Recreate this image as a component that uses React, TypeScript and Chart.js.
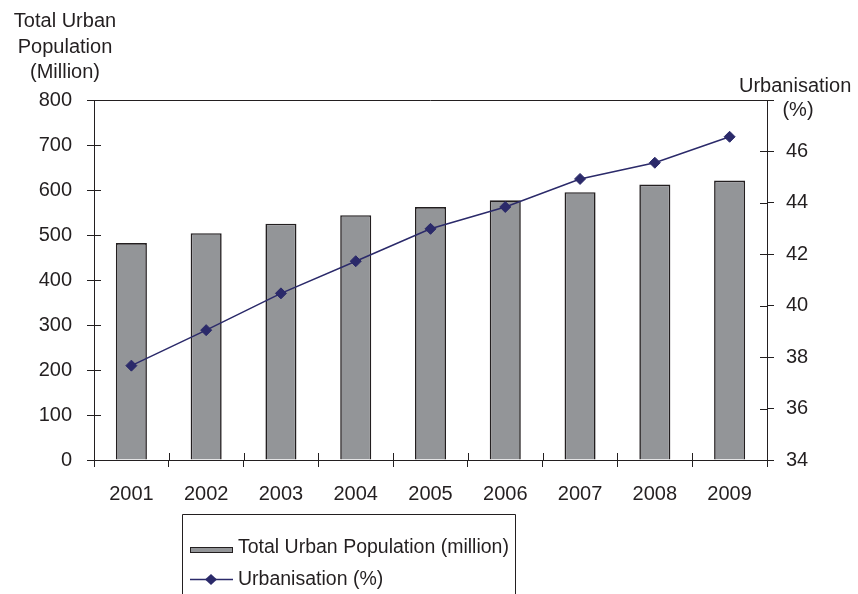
import React, { useEffect, useRef } from 'react';
import { Chart, registerables } from 'chart.js';

Chart.register(...registerables);

const years = ['2001', '2002', '2003', '2004', '2005', '2006', '2007', '2008', '2009'];
const urbanPopulation = [482, 504, 525, 544, 562, 577, 595, 612, 621];
const urbanisationPct = [37.67, 39.05, 40.48, 41.73, 42.99, 43.84, 44.93, 45.56, 46.57];
const leftAxisTitle = ['Total Urban', 'Population', '(Million)'];
const rightAxisTitle = ['Urbanisation', '(%)'];
const popLabel = 'Total Urban Population (million)';
const pctLabel = 'Urbanisation (%)';

const FONT = '"Liberation Sans", Arial, Helvetica, sans-serif';
const INK = '#231f20';
const BAR = '#939598';
const LINE = '#2b2a6a';

const decorPlugin = {
  id: 'decor',
  afterDraw(chart: any) {
    const ctx = chart.ctx;
    const { left, right, top, bottom } = chart.chartArea;
    const x = chart.scales.x;
    const y = chart.scales.y;
    const y1 = chart.scales.y1;
    ctx.save();
    ctx.strokeStyle = INK;
    ctx.lineWidth = 1;
    // top border of plot area
    ctx.beginPath();
    ctx.moveTo(left, Math.round(top) + 0.5);
    ctx.lineTo(right, Math.round(top) + 0.5);
    ctx.stroke();
    // inner halves of crossing tick marks
    ctx.beginPath();
    y.ticks.forEach((_t: any, i: number) => {
      const py = Math.round(y.getPixelForTick(i)) + 0.5;
      ctx.moveTo(left, py);
      ctx.lineTo(left + 7, py);
    });
    y1.ticks.forEach((_t: any, i: number) => {
      const py = Math.round(y1.getPixelForTick(i)) + 0.5;
      ctx.moveTo(right, py);
      ctx.lineTo(right - 7, py);
    });
    const half = (x.getPixelForValue(1) - x.getPixelForValue(0)) / 2;
    for (let i = 0; i <= years.length; i++) {
      const px = Math.round(x.getPixelForValue(i) - half) + 0.5;
      ctx.moveTo(px, bottom);
      ctx.lineTo(px, bottom - 7);
    }
    ctx.stroke();

    // axis titles
    ctx.fillStyle = INK;
    ctx.font = `20px ${FONT}`;
    ctx.textBaseline = 'middle';
    ctx.textAlign = 'center';
    const ly = [21, 47, 72];
    leftAxisTitle.forEach((t, i) => ctx.fillText(t, 65, ly[i]));
    ctx.textAlign = 'left';
    ctx.fillText(rightAxisTitle[0], 739, 86);
    ctx.textAlign = 'center';
    ctx.fillText(rightAxisTitle[1], 798, 110);

    // legend box
    ctx.beginPath();
    ctx.rect(182.5, 514.5, 333, 100);
    ctx.stroke();
    const ds = chart.data.datasets;
    // bar symbol
    ctx.fillStyle = ds[0].backgroundColor;
    ctx.fillRect(190, 547, 42, 5);
    ctx.strokeStyle = ds[0].borderColor;
    ctx.strokeRect(190.5, 547.5, 42, 5);
    // line symbol
    ctx.strokeStyle = ds[1].borderColor;
    ctx.lineWidth = 1.5;
    ctx.beginPath();
    ctx.moveTo(190, 579.5);
    ctx.lineTo(233, 579.5);
    ctx.stroke();
    ctx.fillStyle = ds[1].backgroundColor;
    ctx.beginPath();
    ctx.moveTo(205, 579.5);
    ctx.lineTo(211, 574);
    ctx.lineTo(217, 579.5);
    ctx.lineTo(211, 585);
    ctx.closePath();
    ctx.fill();
    // legend texts
    ctx.fillStyle = INK;
    ctx.font = `19.5px ${FONT}`;
    ctx.textAlign = 'left';
    ctx.textBaseline = 'alphabetic';
    ctx.fillText(ds[0].label, 238, 553);
    ctx.fillText(ds[1].label, 238, 585);
    ctx.restore();
  },
};

export default function App() {
  const ref = useRef<HTMLCanvasElement | null>(null);
  useEffect(() => {
    if (!ref.current) return;
    const font = { family: FONT, size: 20 };
    const chart = new Chart(ref.current, {
      type: 'bar',
      data: {
        labels: years,
        datasets: [
          {
            type: 'bar',
            label: popLabel,
            data: urbanPopulation,
            yAxisID: 'y',
            backgroundColor: BAR,
            borderColor: INK,
            borderWidth: 1.6,
            inflateAmount: 0,
            barPercentage: 0.415,
            categoryPercentage: 1,
            order: 2,
          } as any,
          {
            type: 'line',
            label: pctLabel,
            data: urbanisationPct,
            yAxisID: 'y1',
            borderColor: LINE,
            backgroundColor: LINE,
            borderWidth: 1.5,
            pointStyle: 'rectRot',
            pointRadius: 5.5,
            pointBorderWidth: 1,
            tension: 0,
            order: 1,
          } as any,
        ],
      },
      options: {
        animation: false,
        responsive: false,
        maintainAspectRatio: false,
        layout: { padding: { top: 100, left: 0, right: 0, bottom: 0 } },
        plugins: { legend: { display: false }, tooltip: { enabled: false } },
        scales: {
          x: {
            offset: true,
            grid: { offset: true, drawOnChartArea: false, drawTicks: true, tickLength: 7, color: INK, lineWidth: 1 },
            border: { display: true, color: INK, width: 1 },
            ticks: { font, color: INK, padding: 15, maxRotation: 0, autoSkip: false },
            afterFit: (s: any) => { s.height = 134; },
          },
          y: {
            position: 'left',
            min: 0,
            max: 800,
            ticks: { stepSize: 100, font, color: INK, padding: 15 },
            grid: { drawOnChartArea: false, tickLength: 7, color: INK },
            border: { display: true, color: INK, width: 1 },
            afterFit: (s: any) => { s.width = 94; },
          },
          y1: {
            position: 'right',
            min: 34,
            max: 48,
            ticks: {
              stepSize: 2,
              font,
              color: INK,
              padding: 12,
              callback: (v: any) => (v === 48 ? '' : String(v)),
            },
            grid: { drawOnChartArea: false, tickLength: 7, color: INK },
            border: { display: true, color: INK, width: 1 },
            afterFit: (s: any) => { s.width = 91; },
          },
        },
      } as any,
      plugins: [decorPlugin],
    });
    return () => chart.destroy();
  }, []);
  return (
    <div style={{ position: 'fixed', left: 0, top: 0, width: 858, height: 594, background: '#fff' }}>
      <canvas ref={ref} width={858} height={594} style={{ width: 858, height: 594, display: 'block' }} />
    </div>
  );
}
